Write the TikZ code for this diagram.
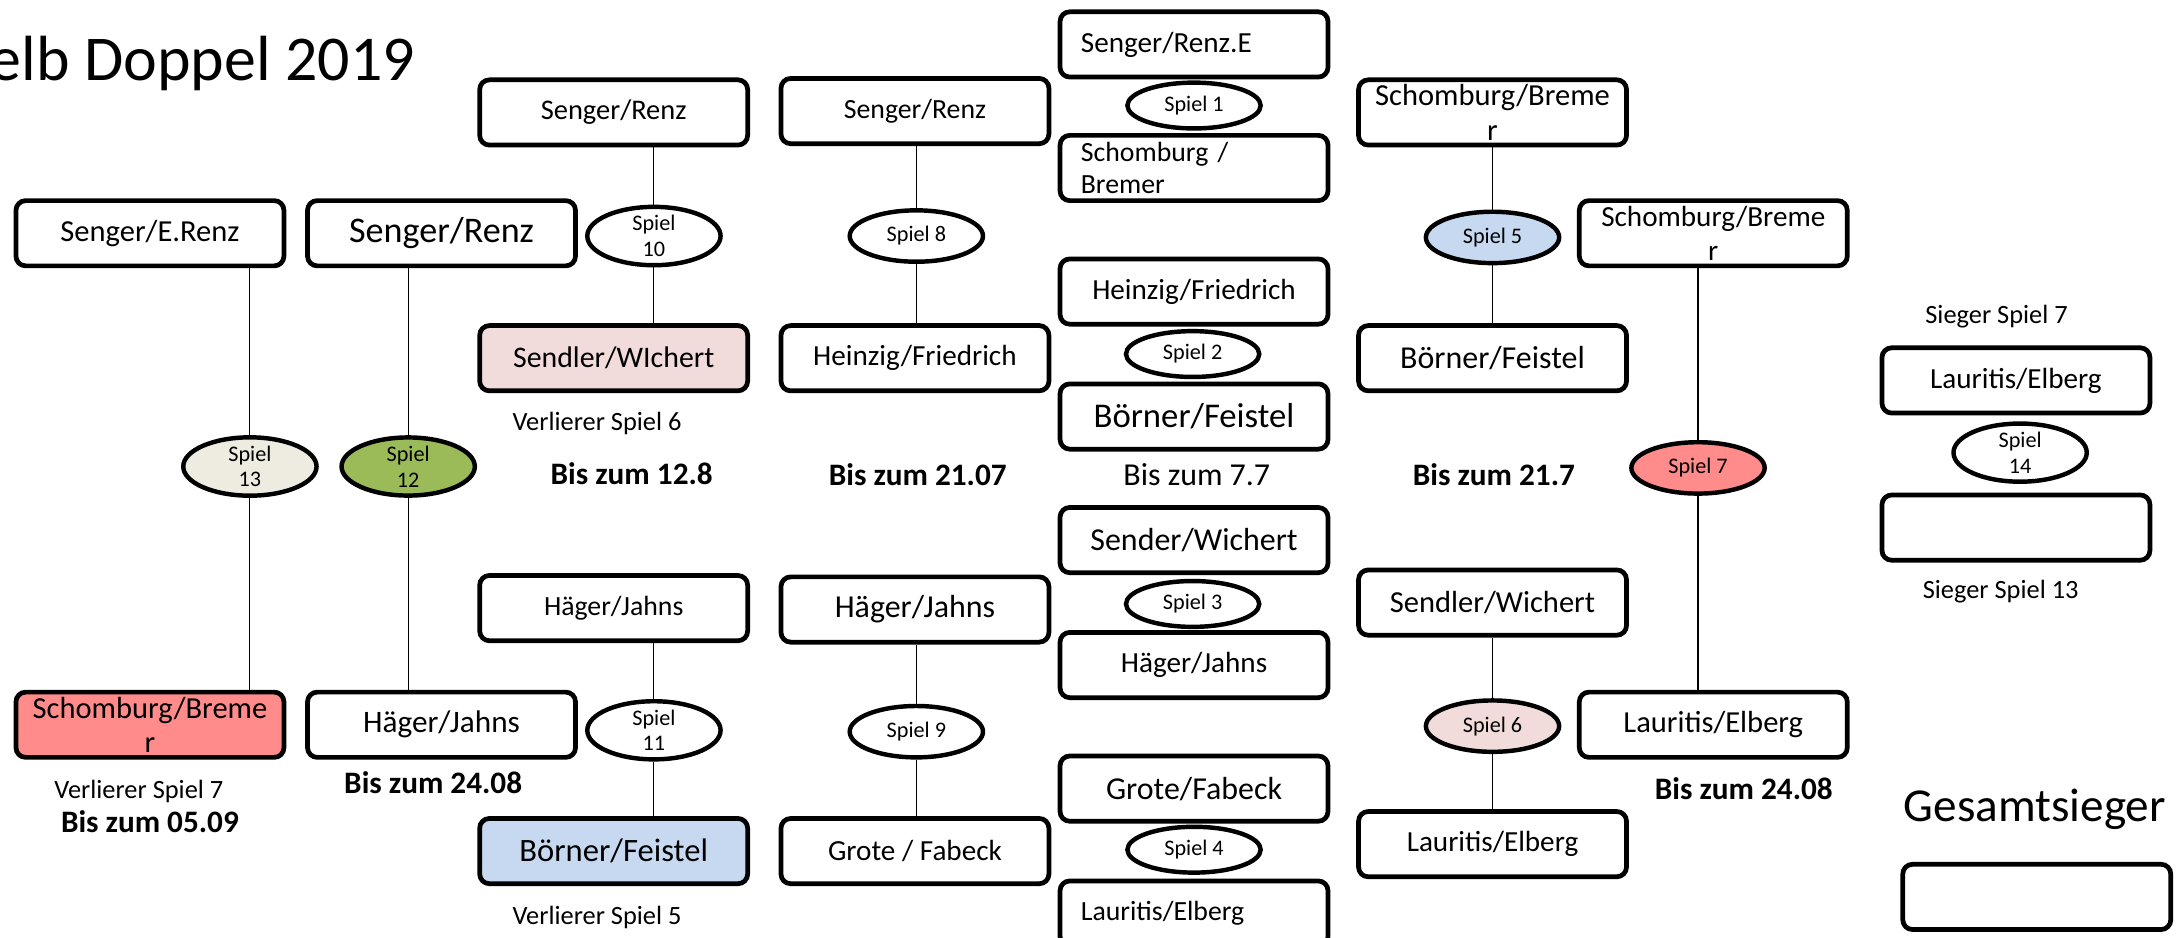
\documentclass[tikz,border=0pt]{standalone}
\usepackage{fontspec}
\setmainfont{Carlito}
\usetikzlibrary{shapes.geometric}

\definecolor{lossrose}{HTML}{F2DCDB}
\definecolor{lossblue}{HTML}{C6D9F1}
\definecolor{lossred}{HTML}{FF8B8B}
\definecolor{spieltan}{HTML}{EEECE1}
\definecolor{spielgreen}{HTML}{9BBB59}

\tikzset{
  team/.style={draw, line width=3.4pt, rounded corners=7pt, fill=white,
    minimum width=193pt, minimum height=47pt, inner sep=0pt, align=center,
    font=\fontsize{22}{25}\selectfont},
  leftteam/.style={team, text width=163pt, align=left},
  spiel/.style={draw, ellipse, line width=3.2pt, fill=white,
    minimum width=96pt, minimum height=37pt, inner sep=0pt, align=center,
    font=\fontsize{16}{18.5}\selectfont},
  flatspiel/.style={spiel, minimum height=33pt},
  conn/.style={line width=0.8pt},
  note/.style={inner sep=0pt, font=\fontsize{19}{22}\selectfont},
  due/.style={inner sep=0pt, font=\bfseries\fontsize{22.5}{26}\selectfont},
}

\begin{document}
\begin{tikzpicture}[x=1pt, y=-1pt]
    \path[use as bounding box, clip] (0,0) rectangle (1568,675);
    % Titel
    \node[anchor=base east, inner sep=0pt, font=\fontsize{46}{50}\selectfont] (title) at (299,58) {elb Doppel 2019};
    % Spiel 13 und 12
    \node[team] (se) at (108,168) {Senger/E.Renz};
    \node[spiel, fill=spieltan] (sp13) at (180,336) {Spiel\\13};
    \node[team, fill=lossred] (sb1) at (108,522) {Schomburg/Breme\\r};
    \node[note] (v7) at (100,570) {Verlierer Spiel 7};
    \node[due] (d1) at (108,592) {Bis zum 05.09};
    \node[team, font=\fontsize{26}{30}\selectfont] (sr2) at (318,168) {Senger/Renz};
    \node[spiel, fill=spielgreen] (sp12) at (294,336) {Spiel\\12};
    \node[team, font=\fontsize{22.5}{26}\selectfont] (hj2) at (318,522) {Häger/Jahns};
    \node[due] (d2) at (312,564) {Bis zum 24.08};
    % Spiel 10 und 11
    \node[team, font=\fontsize{20.5}{24}\selectfont] (sr3) at (442,81) {Senger/Renz};
    \node[spiel] (sp10) at (471,170) {Spiel\\10};
    \node[team, fill=lossrose, font=\fontsize{21.5}{25}\selectfont] (sw3) at (442,258) {Sendler/WIchert};
    \node[note] (v6) at (430,305) {Verlierer Spiel 6};
    \node[due] (d3) at (455,341) {Bis zum 12.8};
    \node[team, font=\fontsize{20}{24}\selectfont] (hj3) at (442,438) {Häger/Jahns};
    \node[spiel] (sp11) at (471,526) {Spiel\\11};
    \node[team, fill=lossblue, font=\fontsize{23.5}{27}\selectfont] (bf3) at (442,613) {Börner/Feistel};
    \node[note] (v5) at (430,661) {Verlierer Spiel 5};
    % Spiel 8 und 9
    \node[team, font=\fontsize{20}{24}\selectfont] (sr4) at (659,80) {Senger/Renz};
    \node[spiel] (sp8) at (660,170) {Spiel 8};
    \node[team, font=\fontsize{21}{25}\selectfont] (hf4) at (659,258) {Heinzig/Friedrich};
    \node[due] (d4) at (661,342) {Bis zum 21.07};
    \node[team, font=\fontsize{23}{27}\selectfont] (hj4) at (659,439) {Häger/Jahns};
    \node[spiel] (sp9) at (660,527) {Spiel 9};
    \node[team, font=\fontsize{21}{25}\selectfont] (gf4) at (659,613) {Grote / Fabeck};
    % Spiel 1 bis 4
    \node[leftteam, font=\fontsize{21}{25}\selectfont] (sre) at (860,32) {Senger/Renz.E};
    \node[leftteam, font=\fontsize{20}{23}\selectfont] (sb5) at (860,121) {Schomburg /\\Bremer};
    \node[flatspiel] (sp1) at (860,76) {Spiel 1};
    \node[team, font=\fontsize{21}{25}\selectfont] (hf5) at (860,210) {Heinzig/Friedrich};
    \node[team, font=\fontsize{25}{29}\selectfont] (bf5) at (860,300) {Börner/Feistel};
    \node[flatspiel] (sp2) at (859,255) {Spiel 2};
    \node[inner sep=0pt, font=\fontsize{23}{27}\selectfont] (d5) at (862,342) {Bis zum 7.7};
    \node[team, font=\fontsize{23}{27}\selectfont] (sw5) at (860,389) {Sender/Wichert};
    \node[team, font=\fontsize{21}{25}\selectfont] (hj5) at (860,479) {Häger/Jahns};
    \node[flatspiel] (sp3) at (859,435) {Spiel 3};
    \node[team, font=\fontsize{23}{27}\selectfont] (gf5) at (860,568) {Grote/Fabeck};
    \node[leftteam, font=\fontsize{20}{24}\selectfont] (le5) at (860,658) {Lauritis/Elberg};
    \node[flatspiel] (sp4) at (860,612) {Spiel 4};
    % Spiel 5 und 6
    \node[team] (sb6) at (1075,81) {Schomburg/Breme\\r};
    \node[spiel, fill=lossblue] (sp5) at (1075,171) {Spiel 5};
    \node[team, font=\fontsize{23}{27}\selectfont] (bf6) at (1075,258) {Börner/Feistel};
    \node[due] (d6) at (1076,342) {Bis zum 21.7};
    \node[team] (sw6) at (1075,434) {Sendler/Wichert};
    \node[spiel, fill=lossrose] (sp6) at (1075,523) {Spiel 6};
    \node[team, font=\fontsize{21}{25}\selectfont] (le6) at (1075,608) {Lauritis/Elberg};
    % Spiel 7
    \node[team, font=\fontsize{21}{25}\selectfont] (sb7) at (1234,168) {Schomburg/Breme\\r};
    \node[spiel, fill=lossred] (sp7) at (1223,337) {Spiel 7};
    \node[team] (le7) at (1234,522) {Lauritis/Elberg};
    \node[due] (d7) at (1256,568) {Bis zum 24.08};
    % Spiel 14
    \node[note] (s7) at (1438,228) {Sieger Spiel 7};
    \node[team, font=\fontsize{21}{25}\selectfont] (le8) at (1452,274) {Lauritis/Elberg};
    \node[spiel] (sp14) at (1455,326) {Spiel\\14};
    \node[team] (w13) at (1452,380) {};
    \node[note] (s13) at (1441,426) {Sieger Spiel 13};
    \node[anchor=base west, inner sep=0pt, font=\fontsize{34}{38}\selectfont] (gs) at (1371,592) {Gesamtsieger};
    \node[team] (win) at (1467,646) {};
    % Linien
    \foreach \hi/\gm/\lo in {se/sp13/sb1, sr2/sp12/hj2, sr3/sp10/sw3, hj3/sp11/bf3,
        sr4/sp8/hf4, hj4/sp9/gf4, sb6/sp5/bf6, sw6/sp6/le6, sb7/sp7/le7}
        \draw[conn] (\gm.north) -- (\gm.north |- \hi.south) (\gm.south) -- (\gm.south |- \lo.north);
\end{tikzpicture}
\end{document}
